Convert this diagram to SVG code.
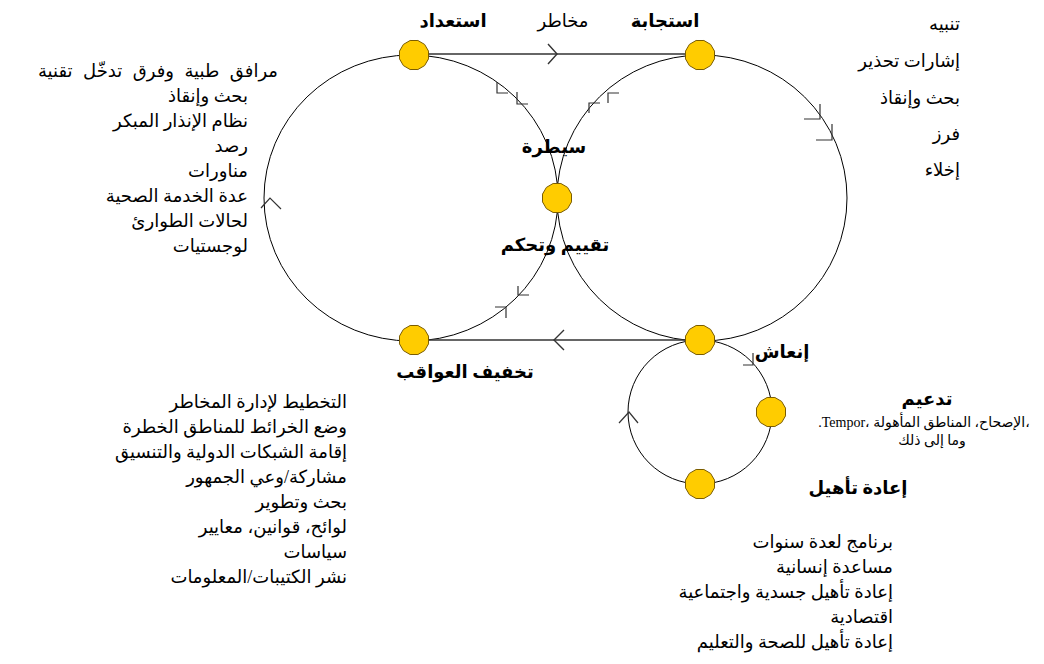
<svg xmlns="http://www.w3.org/2000/svg" width="1044" height="664" viewBox="0 0 1044 664">
<style>
  text { font-family: "Liberation Serif", "DejaVu Sans", serif; fill: #000; }
  .lst { font-size: 18px; direction: rtl; text-anchor: start; }
  .b { font-size: 18px; font-weight: bold; text-anchor: middle; }
  .m { font-size: 18px; text-anchor: middle; }
  .sm { font-size: 14px; text-anchor: middle; }
  .loop { fill: none; stroke: #000; stroke-width: 1; }
  .link { fill: none; stroke: #333; stroke-width: 1.4; }
  .tick { fill: none; stroke: #333; stroke-width: 1.2; }
  .node { fill: #FFCC00; stroke: #7a5c00; stroke-width: 1; }
</style>
<defs>
  <polygon id="oct" points="14.5,3.9 10.6,10.6 3.9,14.5 -3.9,14.5 -10.6,10.6 -14.5,3.9 -14.5,-3.9 -10.6,-10.6 -3.9,-14.5 3.9,-14.5 10.6,-10.6 14.5,-3.9"/>
</defs>
<rect width="1044" height="664" fill="#fff"/>

<g id="connectors">
  <ellipse class="loop" cx="411" cy="198" rx="147" ry="143"/>
  <ellipse class="loop" cx="702" cy="198" rx="145" ry="143"/>
  <circle class="loop" cx="700" cy="412" r="72"/>
  <line class="link" x1="414" y1="54" x2="700" y2="54"/>
  <polyline class="link" points="548,44 557,54 548,64"/>
  <line class="link" x1="700" y1="340" x2="414" y2="340"/>
  <polyline class="link" points="564,330 554,340 564,350"/>
  <polyline class="tick" points="261,208 270,198 281,209"/>
  <polyline class="tick" points="619,423 629,412 638,423"/>
  <polyline class="tick" points="820,104 820,119 804,119"/>
  <polyline class="tick" points="832,124 832,140 816,140"/>
  <polyline class="tick" points="753,353 753,365 743,365"/>
  <polyline class="tick" points="518,286 518,295 529,295"/>
  <polyline class="tick" points="506,318 506,307 495,307"/>
  <polyline class="tick" points="497,82 497,93 508,93"/>
  <polyline class="tick" points="517,92 517,104 528,104"/>
  <polyline class="tick" points="589,113 589,103 600,103"/>
  <polyline class="tick" points="608,103 608,93 619,93"/>
</g>

<g id="n-prep"><use href="#oct" class="node" x="414" y="55"/><text class="b" x="453" y="27">استعداد</text></g>
<g id="n-resp"><use href="#oct" class="node" x="700" y="55"/><text class="b" x="665" y="27">استجابة</text></g>
<g id="n-risk"><text class="m" x="563" y="27">مخاطر</text></g>
<g id="n-ctrl"><use href="#oct" class="node" x="557" y="198"/><text class="b" x="554" y="153">سيطرة</text><text class="b" x="555" y="251">تقييم وتحكم</text></g>
<g id="n-mitig"><use href="#oct" class="node" x="414" y="340"/><text class="b" x="465" y="378">تخفيف العواقب</text></g>
<g id="n-recov"><use href="#oct" class="node" x="700" y="340"/><text class="b" x="782" y="358">إنعاش</text></g>
<g id="n-consol"><use href="#oct" class="node" x="771" y="412"/>
  <text class="b" x="927" y="405">تدعيم</text>
  <text class="sm" x="924" y="427">.Tempor&#x2067;،الإصحاح، المناطق المأهولة ،&#x2069;</text>
  <text class="sm" x="932" y="445">وما إلى ذلك</text>
</g>
<g id="n-rehab"><use href="#oct" class="node" x="700" y="484"/><text class="b" x="858" y="494">إعادة تأهيل</text></g>

<g id="list-response">
  <text class="lst" x="960" y="30">تنبيه</text>
  <text class="lst" x="960" y="67">إشارات تحذير</text>
  <text class="lst" x="960" y="104">بحث وإنقاذ</text>
  <text class="lst" x="960" y="140">فرز</text>
  <text class="lst" x="960" y="176">إخلاء</text>
</g>
<g id="list-prep">
  <text class="lst" x="278" y="77" word-spacing="6">مرافق طبية وفرق تدخّل تقنية</text>
  <text class="lst" x="248" y="102">بحث وإنقاذ</text>
  <text class="lst" x="248" y="127">نظام الإنذار المبكر</text>
  <text class="lst" x="248" y="152">رصد</text>
  <text class="lst" x="248" y="177">مناورات</text>
  <text class="lst" x="248" y="202">عدة الخدمة الصحية</text>
  <text class="lst" x="248" y="227">لحالات الطوارئ</text>
  <text class="lst" x="248" y="252">لوجستيات</text>
</g>
<g id="list-mitig">
  <text class="lst" x="347" y="408">التخطيط لإدارة المخاطر</text>
  <text class="lst" x="347" y="433">وضع الخرائط للمناطق الخطرة</text>
  <text class="lst" x="347" y="458">إقامة الشبكات الدولية والتنسيق</text>
  <text class="lst" x="347" y="483">مشاركة/وعي الجمهور</text>
  <text class="lst" x="347" y="508">بحث وتطوير</text>
  <text class="lst" x="347" y="533">لوائح، قوانين، معايير</text>
  <text class="lst" x="347" y="558">سياسات</text>
  <text class="lst" x="347" y="583">نشر الكتيبات/المعلومات</text>
</g>
<g id="list-rehab">
  <text class="lst" x="893" y="548">برنامج لعدة سنوات</text>
  <text class="lst" x="893" y="573">مساعدة إنسانية</text>
  <text class="lst" x="893" y="598">إعادة تأهيل جسدية واجتماعية</text>
  <text class="lst" x="893" y="623">اقتصادية</text>
  <text class="lst" x="893" y="648">إعادة تأهيل للصحة والتعليم</text>
</g>
</svg>
